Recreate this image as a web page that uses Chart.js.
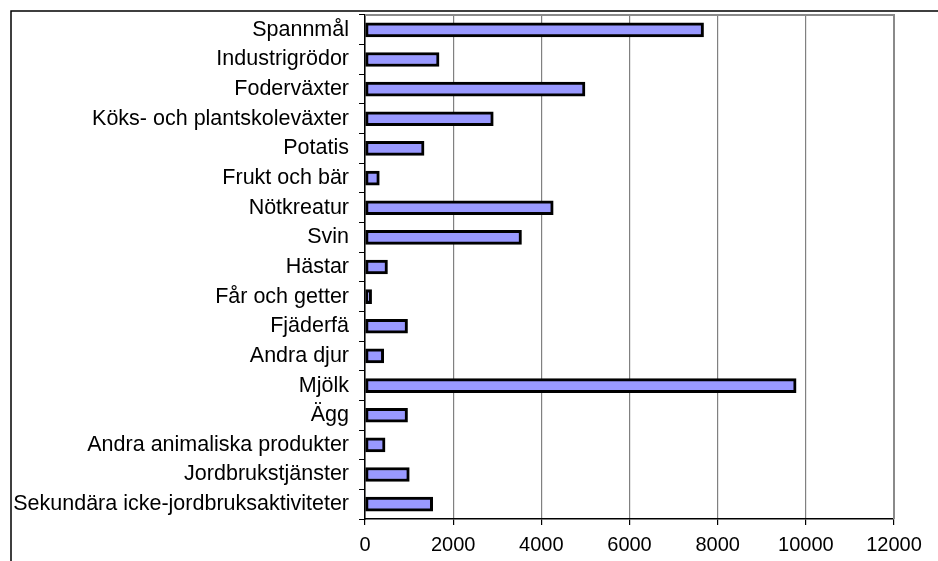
<!DOCTYPE html>
<html>
<head>
<meta charset="utf-8">
<script src="https://cdn.jsdelivr.net/npm/chart.js@4/dist/chart.umd.min.js"></script>
<style>
  html, body { margin: 0; padding: 0; background: #fff; }
  #wrap { width: 938px; height: 561px; position: relative; }
</style>
</head>
<body>
<div id="wrap"><canvas id="chart" width="938" height="561"></canvas></div>
<script>
// kategorier och värden
const categories = [
    'Spannmål', 'Industrigrödor', 'Foderväxter', 'Köks- och plantskoleväxter',
    'Potatis', 'Frukt och bär', 'Nötkreatur', 'Svin', 'Hästar', 'Får och getter',
    'Fjäderfä', 'Andra djur', 'Mjölk', 'Ägg', 'Andra animaliska produkter',
    'Jordbrukstjänster', 'Sekundära icke-jordbruksaktiviteter'
];
const values = [
    7680, 1680, 4990, 2910,
    1340, 325, 4270, 3550, 510, 150,
    965, 425, 9780, 965, 455,
    1005, 1535
];
const xMin = 0;
const xMax = 12000;
const xStep = 2000;

const fontFamily = 'Liberation Sans, Arial, sans-serif';

// ram runt diagrammet och grå kant på plotytan
const framePlugin = {
    id: 'frame',
    afterDraw(chart) {
        const ctx = chart.ctx;
        const a = chart.chartArea;
        ctx.save();
        ctx.strokeStyle = '#8a8a8a';
        ctx.lineWidth = 2;
        ctx.beginPath();
        ctx.moveTo(a.left, a.top);
        ctx.lineTo(a.right, a.top);
        ctx.lineTo(a.right, a.bottom);
        ctx.stroke();
        ctx.strokeStyle = '#000';
        ctx.lineWidth = 1.5;
        ctx.beginPath();
        ctx.moveTo(11, 561);
        ctx.lineTo(11, 11);
        ctx.lineTo(938, 11);
        ctx.stroke();
        ctx.restore();
    }
};

const ctx = document.getElementById('chart').getContext('2d');
new Chart(ctx, {
    type: 'bar',
    data: {
        labels: categories,
        datasets: [{
            data: values,
            backgroundColor: '#9999ff',
            borderColor: '#000',
            borderWidth: 3,
            borderSkipped: false,
            barThickness: 14
        }]
    },
    options: {
        indexAxis: 'y',
        responsive: false,
        animation: false,
        layout: { padding: { left: 12, right: 44, top: 15, bottom: 0 } },
        plugins: {
            legend: { display: false },
            tooltip: { enabled: false }
        },
        scales: {
            x: {
                min: xMin,
                max: xMax,
                afterFit: s => { s.height = 42; s.paddingLeft = 0; s.paddingRight = 0; },
                ticks: {
                    stepSize: xStep,
                    color: '#000',
                    padding: 8,
                    callback: v => String(v),
                    font: { family: fontFamily, size: 20 }
                },
                grid: {
                    color: '#808080',
                    lineWidth: 1.2,
                    tickColor: '#000',
                    tickLength: 6
                },
                border: { color: '#000', width: 1.5 }
            },
            y: {
                afterFit: s => { s.width = 353; s.paddingTop = 0; s.paddingBottom = 0; },
                ticks: {
                    color: '#000',
                    padding: 10,
                    font: { family: fontFamily, size: 21.5 }
                },
                grid: {
                    drawOnChartArea: false,
                    offset: true,
                    tickColor: '#000',
                    tickLength: 6
                },
                border: { color: '#000', width: 1.5 }
            }
        }
    },
    plugins: [framePlugin]
});
</script>
</body>
</html>
